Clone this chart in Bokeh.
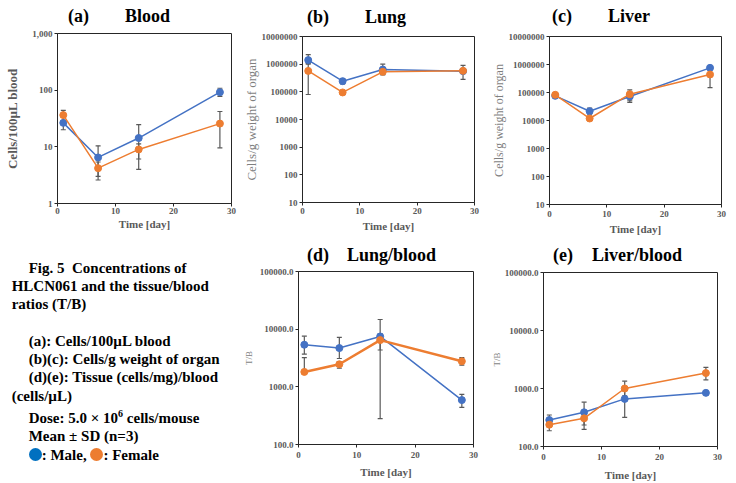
from bokeh.plotting import figure
from bokeh.models import Range1d, FixedTicker, Whisker, ColumnDataSource, TeeHead, Div, NumeralTickFormatter
from bokeh.layouts import column, row
from bokeh.embed import file_html
from bokeh.resources import INLINE

# ---------------- data ----------------
days = [1, 7, 14, 28]

blood_m = [26.5, 6.5, 14.3, 92]
blood_m_lo = [20, 3.0, 4.0, 78]
blood_m_hi = [33, 10.4, 24.7, 108]
blood_f = [36.3, 4.2, 9.0, 25.7]
blood_f_lo = [29, 2.6, 6.1, 9.6]
blood_f_hi = [44, 5.4, 11.3, 42]

lung_m = [1.4e6, 2.43e5, 6.4e5, 5.6e5]
lung_m_lo = [1.0e6, 1.95e5, 4.1e5, 2.8e5]
lung_m_hi = [2.2e6, 3.0e5, 1.0e6, 9.0e5]
lung_f = [5.7e5, 9.5e4, 5.3e5, 5.75e5]
lung_f_lo = [8.0e4, 8.7e4, 4.3e5, 4.8e5]
lung_f_hi = [1.06e6, 1.03e5, 6.3e5, 6.7e5]

liver_m = [7.6e4, 2.15e4, 7.2e4, 7.6e5]
liver_m_lo = [7.0e4, 1.7e4, 4.4e4, 7.0e5]
liver_m_hi = [8.2e4, 2.8e4, 1.0e5, 8.2e5]
liver_f = [8.3e4, 1.18e4, 8.7e4, 4.4e5]
liver_f_lo = [7.8e4, 1.08e4, 5.0e4, 1.5e5]
liver_f_hi = [8.8e4, 1.28e4, 1.24e5, 7.3e5]

lungblood_m = [5370, 4700, 7480, 589]
lungblood_m_lo = [3700, 3100, 280, 441]
lungblood_m_hi = [7570, 7180, 14700, 738]
lungblood_f = [1815, 2460, 6460, 2770]
lungblood_f_lo = [1700, 2100, 4350, 2370]
lungblood_f_hi = [3200, 2735, 8300, 3200]

liverblood_m = [286, 389, 662, 841]
liverblood_m_lo = [230, 235, 318, 780]
liverblood_m_hi = [349, 580, 1000, 900]
liverblood_f = [238, 306, 1000, 1845]
liverblood_f_lo = [187, 197, 750, 1413]
liverblood_f_hi = [290, 360, 1340, 2310]

x_ticks = [0, 10, 20, 30]

BLUE = "#4472C4"
ORANGE = "#ED7D31"
ERR = "#595959"
TICKCOL = "#595959"
SERIF = "Liberation Serif"
TH = 28  # height of the title strip above each chart


def title_div(label, name, w, left, gap, pad_top):
    html = ("<div style=\"font-family:'Liberation Serif';font-weight:bold;font-size:18px;"
            "line-height:20px;padding:{}px 0 0 {}px;color:#000;white-space:nowrap;\">"
            "{}<span style='display:inline-block;width:{}px'></span>{}</div>").format(
        pad_top, left, label, gap, name)
    return Div(text=html, width=w, height=TH, margin=0)


def panel(w, h, l, r, t, b, yr, yticks, yfmt, ylabel,
          ylab_size, ylab_style, ylab_color, ylab_standoff,
          m, m_lo, m_hi, f, f_lo, f_hi, f_width=1.5,
          tick_standoff=1, xlab_standoff=1):
    p = figure(width=w, height=h, y_axis_type="log",
               x_range=Range1d(0, 30), y_range=Range1d(*yr),
               output_backend="svg", toolbar_location=None,
               min_border_left=l, min_border_right=r,
               min_border_top=t, min_border_bottom=b)
    p.xgrid.visible = False
    p.ygrid.visible = False
    p.outline_line_color = "#262626"
    p.outline_line_width = 1
    p.xaxis.ticker = FixedTicker(ticks=x_ticks)
    p.yaxis.ticker = FixedTicker(ticks=yticks)
    p.yaxis.formatter = NumeralTickFormatter(format=yfmt)
    for ax in (p.xaxis[0], p.yaxis[0]):
        ax.major_label_text_font = SERIF
        ax.major_label_text_font_style = "bold"
        ax.major_label_text_font_size = "9px"
        ax.major_label_text_color = TICKCOL
        ax.axis_line_color = "#262626"
        ax.major_tick_line_color = "#262626"
        ax.major_tick_in = 0
        ax.major_tick_out = 3
        ax.minor_tick_line_color = None
        ax.major_label_standoff = tick_standoff
    p.yaxis.major_label_standoff = 2
    p.xaxis.axis_label = "Time [day]"
    p.xaxis.axis_label_text_font = SERIF
    p.xaxis.axis_label_text_font_style = "bold"
    p.xaxis.axis_label_text_font_size = "11px"
    p.xaxis.axis_label_text_color = TICKCOL
    p.xaxis.axis_label_standoff = xlab_standoff
    p.yaxis.axis_label = ylabel
    p.yaxis.axis_label_text_font = SERIF
    p.yaxis.axis_label_text_font_style = ylab_style
    p.yaxis.axis_label_text_font_size = ylab_size
    p.yaxis.axis_label_text_color = ylab_color
    p.yaxis.axis_label_standoff = ylab_standoff

    for vals, lo, hi, col, lw in ((m, m_lo, m_hi, BLUE, 1.5), (f, f_lo, f_hi, ORANGE, f_width)):
        src = ColumnDataSource(dict(x=days, y=vals, lo=lo, hi=hi))
        p.line("x", "y", source=src, line_color=col, line_width=lw)
        p.scatter("x", "y", source=src, marker="circle", size=7, fill_color=col, line_color=col)
    for lo, hi in ((m_lo, m_hi), (f_lo, f_hi)):
        src = ColumnDataSource(dict(x=days, lo=lo, hi=hi))
        wk = Whisker(base="x", lower="lo", upper="hi", source=src,
                     line_color=ERR, line_width=1.2,
                     upper_head=TeeHead(size=5, line_color=ERR, line_width=1.2),
                     lower_head=TeeHead(size=5, line_color=ERR, line_width=1.2))
        p.add_layout(wk)
    return p


X0, X1, X2, X3 = 0, 240, 488, 736
Y0, Y1, Y2 = 0, 240, 483
wa, wb, wc = X1 - X0, X2 - X1, X3 - X2
h1, h2 = Y1 - Y0 - TH, Y2 - Y1 - TH
T1, T2 = Y0 + TH, Y1 + TH  # top edges of the figures

pa = panel(wa, h1, 57 - X0, X0 + wa - 231, 33 - T1, T1 + h1 - 203,
           (1, 1000), [1, 10, 100, 1000], "0,0", "Cells/100µL blood",
           "13px", "bold", TICKCOL, 9,
           blood_m, blood_m_lo, blood_m_hi, blood_f, blood_f_lo, blood_f_hi,
           tick_standoff=1, xlab_standoff=1)
pb = panel(wb, h1, 297 - X1, X1 + wb - 474, 36 - T1, T1 + h1 - 202,
           (10, 1e7), [10, 100, 1000, 1e4, 1e5, 1e6, 1e7], "0", "Cells/g weight of organ",
           "13px", "normal", "#7f7f7f", 0,
           lung_m, lung_m_lo, lung_m_hi, lung_f, lung_f_lo, lung_f_hi,
           tick_standoff=2, xlab_standoff=3)
pc = panel(wc, h1, 541 - X2, X2 + wc - 721, 36 - T1, T1 + h1 - 204,
           (10, 1e7), [10, 100, 1000, 1e4, 1e5, 1e6, 1e7], "0", "Cells/g weight of organ",
           "12px", "normal", "#7f7f7f", 0,
           liver_m, liver_m_lo, liver_m_hi, liver_f, liver_f_lo, liver_f_hi,
           tick_standoff=3, xlab_standoff=3)
pd = panel(wb, h2, 298 - X1, X1 + wb - 473, 271 - T2, T2 + h2 - 444,
           (100, 1e5), [100, 1000, 1e4, 1e5], "0.0", "T/B",
           "9px", "normal", "#7f7f7f", 3,
           lungblood_m, lungblood_m_lo, lungblood_m_hi, lungblood_f, lungblood_f_lo, lungblood_f_hi,
           f_width=2.5, tick_standoff=4, xlab_standoff=5)
pe = panel(wc, h2, 539 - X2, X2 + wc - 717, 272 - T2, T2 + h2 - 446,
           (100, 1e5), [100, 1000, 1e4, 1e5], "0.0", "T/B",
           "9px", "normal", "#7f7f7f", 0,
           liverblood_m, liverblood_m_lo, liverblood_m_hi, liverblood_f, liverblood_f_lo, liverblood_f_hi,
           tick_standoff=4, xlab_standoff=6)

ta = title_div("(a)", "Blood", wa, 68 - X0, 36, 6)
tb = title_div("(b)", "Lung", wb, 307 - X1, 36, 6.7)
tc = title_div("(c)", "Liver", wc, 552 - X2, 36, 6)
td = title_div("(d)", "Lung/blood", wb, 307 - X1, 18, 5)
te = title_div("(e)", "Liver/blood", wc, 553 - X2, 19, 5)

caption_lines = [
    (True, "Fig. 5&nbsp;&nbsp;Concentrations of"),
    (False, "HLCN061 and the tissue/blood"),
    (False, "ratios (T/B)"),
    (False, "&nbsp;"),
    (True, "(a): Cells/100µL blood"),
    (True, "(b)(c): Cells/g weight of organ"),
    (True, "(d)(e): Tissue (cells/mg)/blood"),
    (False, "(cells/µL)"),
    (True, "Dose: 5.0 × 10<sup style='font-size:10px'>6</sup> cells/mouse"),
    (True, "Mean ± SD (n=3)"),
]
dot = "<span style='display:inline-block;width:13px;height:13px;border-radius:50%;background:{};vertical-align:-1px'></span>"
legend_line = dot.format("#0070C0") + ": Male, " + dot.format(ORANGE) + ": Female"
caption_lines.append((True, legend_line))

html = "<div style=\"font-family:'Liberation Serif';font-weight:bold;font-size:15px;line-height:18.3px;" \
       "padding:18.6px 0 0 11.7px;color:#000;white-space:nowrap;\">"
for ind, txt in caption_lines:
    html += "<div style='padding-left:{}px'>{}</div>".format(17 if ind else 0, txt)
html += "</div>"
div = Div(text=html, width=wa, height=Y2 - Y1, margin=0)

layout = column(
    row(column(ta, pa), column(tb, pb), column(tc, pc)),
    row(div, column(td, pd), column(te, pe)),
)

open("out.html", "w").write(file_html(layout, INLINE))
